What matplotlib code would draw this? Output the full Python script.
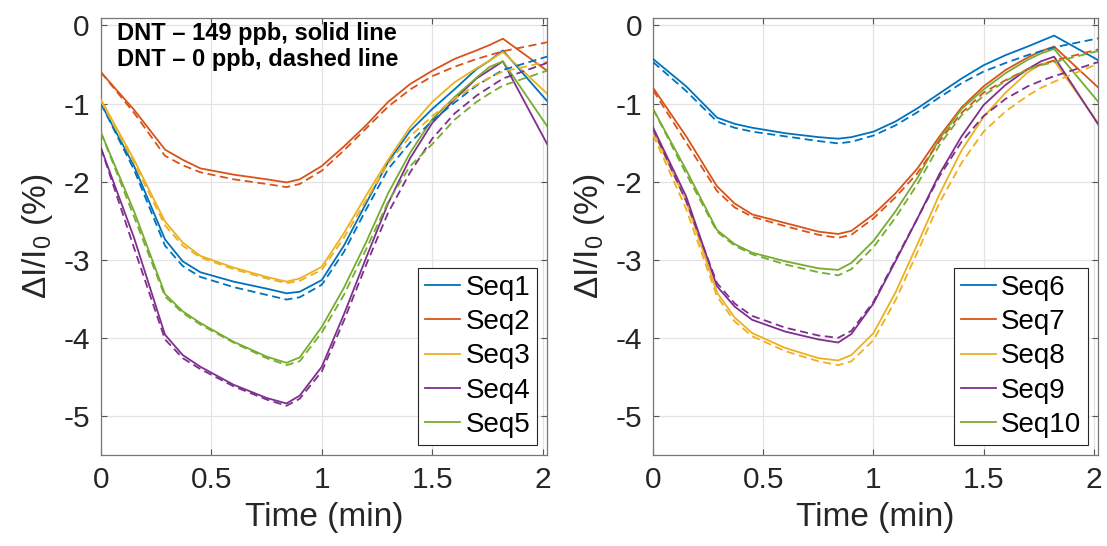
import matplotlib.pyplot as plt

# time axis (min), shared by every trace
t = [0, 0.15, 0.29, 0.37, 0.45, 0.6, 0.75, 0.84, 0.9, 1.0, 1.1, 1.2, 1.3, 1.4, 1.5, 1.6, 1.7, 1.76, 1.82, 2.03]

# left panel: DNT 149 ppb (solid) and 0 ppb (dashed)
seq1_solid = [-1.00, -1.80, -2.74, -3.02, -3.16, -3.28, -3.37, -3.43, -3.41, -3.26, -2.82, -2.28, -1.75, -1.35, -1.07, -0.82, -0.56, -0.45, -0.32, -1.00]
seq1_dash = [-1.00, -1.85, -2.82, -3.08, -3.22, -3.35, -3.45, -3.51, -3.48, -3.32, -2.90, -2.36, -1.84, -1.50, -1.22, -0.99, -0.77, -0.67, -0.57, -0.39]
seq2_solid = [-0.60, -1.08, -1.59, -1.72, -1.83, -1.91, -1.97, -2.01, -1.97, -1.80, -1.55, -1.28, -0.98, -0.75, -0.58, -0.43, -0.32, -0.25, -0.17, -0.60]
seq2_dash = [-0.60, -1.12, -1.67, -1.79, -1.88, -1.97, -2.03, -2.07, -2.03, -1.86, -1.60, -1.32, -1.04, -0.82, -0.65, -0.53, -0.43, -0.38, -0.33, -0.21]
seq3_solid = [-0.95, -1.72, -2.51, -2.78, -2.95, -3.10, -3.22, -3.28, -3.24, -3.09, -2.66, -2.18, -1.72, -1.30, -0.98, -0.73, -0.55, -0.45, -0.34, -0.90]
seq3_dash = [-0.97, -1.76, -2.56, -2.82, -2.97, -3.12, -3.24, -3.30, -3.27, -3.13, -2.72, -2.24, -1.77, -1.42, -1.16, -0.94, -0.76, -0.67, -0.59, -0.46]
seq4_solid = [-1.57, -2.72, -3.96, -4.22, -4.37, -4.60, -4.77, -4.84, -4.74, -4.37, -3.70, -2.98, -2.28, -1.70, -1.25, -0.95, -0.68, -0.57, -0.46, -1.57]
seq4_dash = [-1.57, -2.85, -4.02, -4.26, -4.40, -4.62, -4.79, -4.87, -4.78, -4.43, -3.78, -3.07, -2.40, -1.88, -1.45, -1.13, -0.90, -0.79, -0.68, -0.47]
seq5_solid = [-1.37, -2.38, -3.44, -3.66, -3.81, -4.05, -4.24, -4.32, -4.25, -3.86, -3.36, -2.78, -2.15, -1.63, -1.20, -0.92, -0.67, -0.53, -0.46, -1.33]
seq5_dash = [-1.37, -2.45, -3.47, -3.68, -3.83, -4.06, -4.26, -4.35, -4.30, -3.93, -3.45, -2.87, -2.26, -1.80, -1.52, -1.21, -0.98, -0.87, -0.77, -0.57]

# right panel
seq6_solid = [-0.43, -0.78, -1.18, -1.26, -1.31, -1.38, -1.43, -1.45, -1.43, -1.36, -1.23, -1.06, -0.87, -0.68, -0.51, -0.38, -0.27, -0.20, -0.13, -0.46]
seq6_dash = [-0.47, -0.84, -1.23, -1.31, -1.36, -1.42, -1.48, -1.51, -1.49, -1.41, -1.28, -1.11, -0.92, -0.74, -0.59, -0.48, -0.38, -0.33, -0.28, -0.16]
seq7_solid = [-0.80, -1.42, -2.06, -2.28, -2.42, -2.53, -2.64, -2.67, -2.63, -2.42, -2.15, -1.83, -1.42, -1.05, -0.78, -0.57, -0.41, -0.33, -0.27, -0.82]
seq7_dash = [-0.83, -1.50, -2.12, -2.33, -2.45, -2.57, -2.68, -2.72, -2.68, -2.47, -2.20, -1.89, -1.48, -1.12, -0.86, -0.70, -0.56, -0.50, -0.45, -0.30]
seq8_solid = [-1.35, -2.25, -3.42, -3.74, -3.94, -4.13, -4.26, -4.29, -4.22, -3.94, -3.42, -2.80, -2.16, -1.60, -1.17, -0.86, -0.60, -0.50, -0.45, -1.29]
seq8_dash = [-1.40, -2.35, -3.47, -3.79, -3.98, -4.17, -4.30, -4.35, -4.30, -4.03, -3.52, -2.90, -2.27, -1.76, -1.36, -1.10, -0.90, -0.80, -0.72, -0.48]
seq9_solid = [-1.31, -2.19, -3.34, -3.60, -3.77, -3.92, -4.02, -4.06, -3.95, -3.56, -3.02, -2.47, -1.90, -1.42, -1.02, -0.76, -0.56, -0.46, -0.40, -1.31]
seq9_dash = [-1.33, -2.25, -3.30, -3.56, -3.72, -3.87, -3.97, -4.00, -3.91, -3.54, -3.00, -2.47, -1.93, -1.49, -1.16, -0.94, -0.78, -0.71, -0.65, -0.46]
seq10_solid = [-1.07, -1.85, -2.62, -2.80, -2.91, -3.02, -3.11, -3.13, -3.04, -2.76, -2.38, -1.95, -1.45, -1.07, -0.82, -0.61, -0.44, -0.36, -0.30, -1.01]
seq10_dash = [-1.07, -1.90, -2.64, -2.82, -2.93, -3.06, -3.16, -3.20, -3.12, -2.84, -2.46, -2.03, -1.53, -1.15, -0.90, -0.71, -0.56, -0.51, -0.47, -0.32]

left_names = ['Seq1', 'Seq2', 'Seq3', 'Seq4', 'Seq5']
right_names = ['Seq6', 'Seq7', 'Seq8', 'Seq9', 'Seq10']
colors = ['#0072BD', '#D95319', '#EDB120', '#7E2F8E', '#77AC30']

plt.rcParams['font.family'] = ['Liberation Sans', 'DejaVu Sans']
plt.rcParams['mathtext.fontset'] = 'custom'
plt.rcParams['mathtext.rm'] = 'Liberation Sans'
plt.rcParams['mathtext.it'] = 'Liberation Sans:italic'

fig = plt.figure(figsize=(11.07, 5.46), dpi=100)
ax1 = fig.add_axes([0.0912, 0.1667, 0.403, 0.801])
ax2 = fig.add_axes([0.590, 0.1667, 0.402, 0.801])

panels = [
    (ax1, left_names, [seq1_solid, seq2_solid, seq3_solid, seq4_solid, seq5_solid],
     [seq1_dash, seq2_dash, seq3_dash, seq4_dash, seq5_dash]),
    (ax2, right_names, [seq6_solid, seq7_solid, seq8_solid, seq9_solid, seq10_solid],
     [seq6_dash, seq7_dash, seq8_dash, seq9_dash, seq10_dash]),
]

for ax, names, solids, dashes in panels:
    handles = []
    for name, c, ys in zip(names, colors, solids):
        h, = ax.plot(t, ys, color=c, lw=1.3, label=name, zorder=3)
        handles.append(h)
    for c, ys in zip(colors, dashes):
        ax.plot(t, ys, color=c, lw=1.3, linestyle=(0, (4.5, 2.5)), zorder=3)

    ax.set_xlim(0, 2.02)
    ax.set_ylim(-5.5, 0.1)
    ax.set_xticks([0, 0.5, 1, 1.5, 2])
    ax.set_xticklabels(['0', '0.5', '1', '1.5', '2'])
    ax.set_yticks([0, -1, -2, -3, -4, -5])
    ax.set_yticklabels(['0', '-1', '-2', '-3', '-4', '-5'])
    ax.grid(True, color='#e3e3e3', lw=0.9, zorder=0)
    ax.set_axisbelow(True)
    ax.tick_params(direction='in', top=True, right=True, length=4.5, width=0.8,
                   color='#555555', labelsize=21.5, labelcolor='#262626', pad=8)
    for sp in ax.spines.values():
        sp.set_color('#777777')
        sp.set_linewidth(0.9)
    ax.set_xlabel('Time (min)', fontsize=24, color='#262626', labelpad=6)
    ax.set_ylabel('ΔI/I$_0$ (%)', fontsize=24, color='#262626', labelpad=6)

    # legend shows the solid traces only
    leg = ax.legend(handles=handles, loc='lower right', bbox_to_anchor=(0.978, 0.023),
                    borderaxespad=0, fontsize=20, handlelength=1.25, handletextpad=0.2,
                    labelspacing=0.3, borderpad=0.25, fancybox=False, framealpha=1)
    leg.get_frame().set_edgecolor('#262626')
    leg.get_frame().set_linewidth(0.8)

ax1.text(0.036, 0.99, 'DNT – 149 ppb, solid line\nDNT – 0 ppb, dashed line',
         transform=ax1.transAxes, ha='left', va='top', fontsize=17,
         fontweight='bold', linespacing=1.15, color='black')

fig.savefig('out.png', dpi=100)
